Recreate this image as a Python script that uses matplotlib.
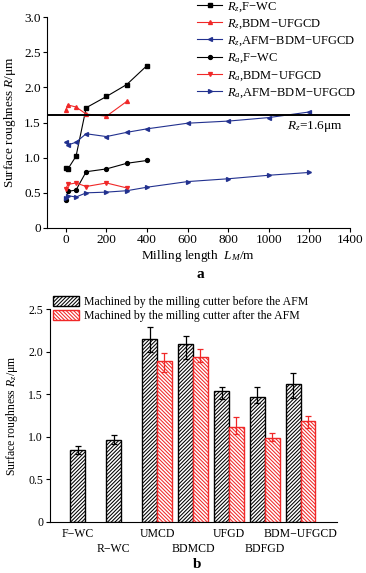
import matplotlib
matplotlib.use('Agg')
import matplotlib.pyplot as plt
import numpy as np

plt.rcParams['font.family'] = ['Liberation Serif', 'DejaVu Serif']
plt.rcParams['mathtext.fontset'] = 'custom'
plt.rcParams['mathtext.rm'] = 'Liberation Serif'
plt.rcParams['mathtext.it'] = 'Liberation Serif:italic'
plt.rcParams['mathtext.bf'] = 'Liberation Serif:bold'
plt.rcParams['hatch.linewidth'] = 0.75

# ---------------- Panel a data ----------------
x_fwc = [0, 10, 50, 100, 200, 300, 400]
rz_fwc = [0.85, 0.84, 1.02, 1.71, 1.87, 2.04, 2.31]
ra_fwc = [0.40, 0.52, 0.54, 0.80, 0.84, 0.92, 0.96]

x_bdm = [0, 10, 50, 100, 200, 300]
rz_bdm = [1.68, 1.75, 1.72, 1.62, 1.59, 1.80]
ra_bdm = [0.56, 0.62, 0.64, 0.59, 0.64, 0.57]

x_afm = [0, 10, 50, 100, 200, 300, 400, 600, 800, 1000, 1200]
rz_afm = [1.22, 1.18, 1.22, 1.34, 1.30, 1.36, 1.41, 1.49, 1.52, 1.57, 1.65]
ra_afm = [0.42, 0.46, 0.44, 0.50, 0.51, 0.53, 0.58, 0.66, 0.70, 0.75, 0.79]

rz_limit = 1.6
a_xticks = [0, 200, 400, 600, 800, 1000, 1200, 1400]
a_yticks = [0, 0.5, 1.0, 1.5, 2.0, 2.5, 3.0]
a_yticklabels = ['0', '0.5', '1.0', '1.5', '2.0', '2.5', '3.0']

# ---------------- Panel b data ----------------
categories = ['F−WC', 'R−WC', 'UMCD', 'BDMCD', 'UFGD', 'BDFGD', 'BDM−UFGCD']
before = [0.85, 0.96, 2.15, 2.09, 1.54, 1.47, 1.62]
before_lo = [0.80, 0.92, 1.99, 1.91, 1.44, 1.40, 1.45]
before_hi = [0.89, 1.02, 2.29, 2.18, 1.59, 1.59, 1.75]
after_categories = ['UMCD', 'BDMCD', 'UFGD', 'BDFGD', 'BDM−UFGCD']
after = [1.89, 1.94, 1.12, 0.99, 1.18]
after_lo = [1.76, 1.88, 1.03, 0.95, 1.10]
after_hi = [1.98, 2.03, 1.23, 1.05, 1.24]
b_yticks = [0, 0.5, 1.0, 1.5, 2.0, 2.5]
b_yticklabels = ['0', '0.5', '1.0', '1.5', '2.0', '2.5']

RED = '#f02828'
BLUE = '#22318f'
BLACK = '#000000'

W, H = 366, 573
fig = plt.figure(figsize=(W / 100, H / 100), dpi=100)

# ---------------- Panel a ----------------
ax1 = fig.add_axes([47 / W, 1 - 228 / H, (350 - 47) / W, (228 - 17) / H])
lw, ms = 0.8, 2.8
ax1.plot(x_fwc, rz_fwc, '-s', color=BLACK, lw=lw, ms=ms, label=r'$R_z$,F−WC')
ax1.plot(x_bdm, rz_bdm, '-^', color=RED, lw=lw, ms=ms, label=r'$R_z$,BDM−UFGCD')
ax1.plot(x_afm, rz_afm, '-<', color=BLUE, lw=lw, ms=ms, label=r'$R_z$,AFM−BDM−UFGCD')
ax1.plot(x_fwc, ra_fwc, '-o', color=BLACK, lw=lw, ms=ms, label=r'$R_a$,F−WC')
ax1.plot(x_bdm, ra_bdm, '-v', color=RED, lw=lw, ms=ms, label=r'$R_a$,BDM−UFGCD')
ax1.plot(x_afm, ra_afm, '->', color=BLUE, lw=lw, ms=ms, label=r'$R_a$,AFM−BDM−UFGCD')
ax1.axhline(rz_limit, color=BLACK, lw=1.4)
ax1.text(1090, rz_limit - 0.16, r'$R_z$=1.6μm', fontsize=9.5, va='center', ha='left')

ax1.set_xlim(-93, 1400)
ax1.set_ylim(0, 3.0)
ax1.set_xticks(a_xticks)
ax1.set_yticks(a_yticks)
ax1.set_yticklabels(a_yticklabels)
for s in ['top', 'right']:
    ax1.spines[s].set_visible(False)
ax1.tick_params(direction='out', length=3, width=0.8, labelsize=9.5, pad=1.5)
ax1.set_xlabel('Milling length  $L_M$/m', fontsize=9.5, labelpad=1)
ax1.set_ylabel('Surface roughness $R$/μm', fontsize=9.5, labelpad=4)

ax1.legend(loc='upper left', bbox_to_anchor=(197 / W, 1.0), bbox_transform=fig.transFigure,
           frameon=False, fontsize=9, handlelength=2.0, handletextpad=0.4,
           labelspacing=0.3, borderpad=0, borderaxespad=0)

fig.text(200 / W, 1 - 274 / H, 'a', fontsize=11, weight='bold', ha='center', va='center')

# ---------------- Panel b ----------------
ax2 = fig.add_axes([50 / W, 1 - 522 / H, (337 - 50) / W, (522 - 309) / H])
pos = np.arange(len(categories))
w = 0.41
bpos = pos - w / 2
apos = np.array([categories.index(c) for c in after_categories]) + w / 2

berr = [np.array(before) - np.array(before_lo), np.array(before_hi) - np.array(before)]
aerr = [np.array(after) - np.array(after_lo), np.array(after_hi) - np.array(after)]

ax2.bar(bpos, before, w, yerr=berr, facecolor='white', edgecolor=BLACK, hatch='/' * 9,
        lw=1.0, label='Machined by the milling cutter before the AFM',
        error_kw=dict(ecolor=BLACK, capsize=2.5, elinewidth=0.9, capthick=0.9))
ax2.bar(apos, after, w, yerr=aerr, facecolor='white', edgecolor=RED, hatch='\\' * 9,
        lw=1.0, label='Machined by the milling cutter after the AFM',
        error_kw=dict(ecolor=RED, capsize=2.5, elinewidth=0.9, capthick=0.9))

ax2.set_xlim(-0.98, 7.01)
ax2.set_ylim(0, 2.5)
ax2.set_yticks(b_yticks)
ax2.set_yticklabels(b_yticklabels)

# staggered category labels: upper row as major ticks, lower row as minor ticks
tick_pos = [bpos[0], bpos[1]] + list(pos[2:])
upper_idx = [i for i in range(len(categories)) if i % 2 == 0]
lower_idx = [i for i in range(len(categories)) if i % 2 == 1]
ax2.set_xticks([tick_pos[i] for i in upper_idx])
ax2.set_xticklabels([categories[i] for i in upper_idx])
ax2.set_xticks([tick_pos[i] for i in lower_idx], minor=True)
ax2.set_xticklabels([categories[i] for i in lower_idx], minor=True)
for s in ['top', 'right']:
    ax2.spines[s].set_visible(False)
ax2.tick_params(axis='y', direction='out', length=3, width=0.8, labelsize=8.5, pad=2)
ax2.tick_params(axis='x', which='major', length=0, labelsize=8.5, pad=4)
ax2.tick_params(axis='x', which='minor', length=0, labelsize=8.5, pad=15)
ax2.set_ylabel('Surface roughness $R_z$/μm', fontsize=8.5, labelpad=6)

ax2.legend(loc='upper left', bbox_to_anchor=(53 / W, 1 - 296 / H), bbox_transform=fig.transFigure,
           frameon=False, fontsize=8.5, handlelength=2.2, handleheight=0.9, handletextpad=0.4,
           labelspacing=0.15, borderpad=0, borderaxespad=0)

fig.text(197 / W, 1 - 565 / H, 'b', fontsize=11, weight='bold', ha='center', va='center')

fig.savefig('out.png', dpi=100)
